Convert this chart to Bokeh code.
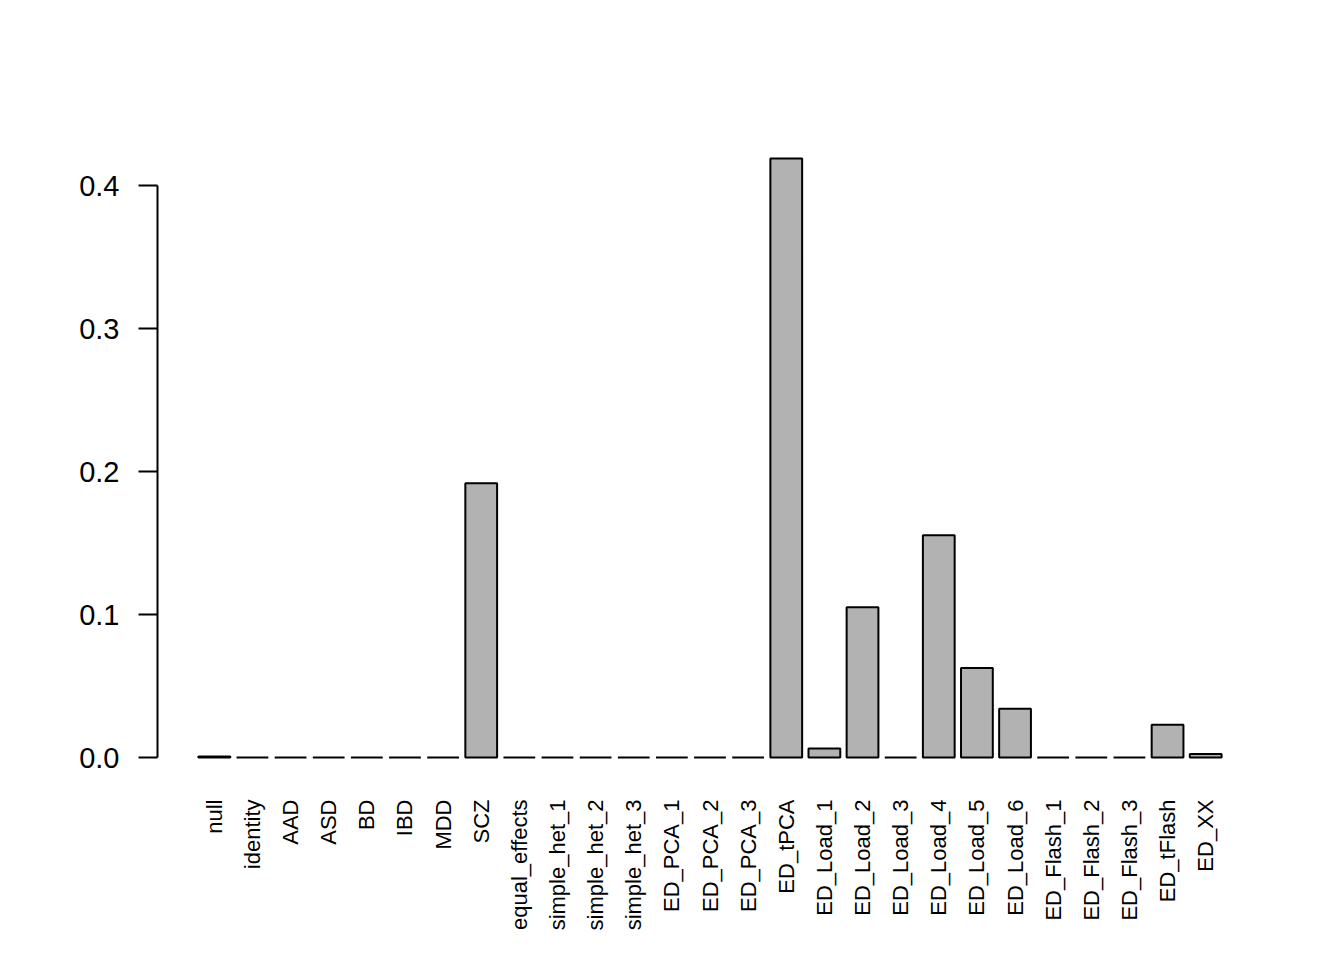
import math
from bokeh.plotting import figure
from bokeh.models import Range1d, FixedTicker
from bokeh.embed import file_html
from bokeh.resources import INLINE

categories = ["null", "identity", "AAD", "ASD", "BD", "IBD", "MDD", "SCZ",
              "equal_effects", "simple_het_1", "simple_het_2", "simple_het_3",
              "ED_PCA_1", "ED_PCA_2", "ED_PCA_3", "ED_tPCA",
              "ED_Load_1", "ED_Load_2", "ED_Load_3", "ED_Load_4", "ED_Load_5", "ED_Load_6",
              "ED_Flash_1", "ED_Flash_2", "ED_Flash_3", "ED_tFlash", "ED_XX"]
values = [0.0008, 0.0, 0.0, 0.0, 0.0, 0.0, 0.0, 0.1918,
          0.0, 0.0, 0.0, 0.0,
          0.0, 0.0, 0.0, 0.4190,
          0.0063, 0.1052, 0.0, 0.1554, 0.0627, 0.0341,
          0.0, 0.0, 0.0, 0.0230, 0.0025]
y_ticks = [0.0, 0.1, 0.2, 0.3, 0.4]
y_tick_labels = ["0.0", "0.1", "0.2", "0.3", "0.4"]

xs = list(range(len(categories)))
ymax = max(values)
pad = 0.04 * ymax

p = figure(frame_width=1105, frame_height=647,
           min_border_left=157, min_border_top=134,
           min_border_right=66, min_border_bottom=162,
           x_range=Range1d(-1.49, len(categories) + 0.49),
           y_range=Range1d(-pad, ymax + pad),
           output_backend="svg", toolbar_location=None,
           background_fill_color="white", border_fill_color="white")
p.outline_line_color = None
p.xgrid.visible = False
p.ygrid.visible = False

p.vbar(x=xs, top=values, bottom=0, width=1 / 1.2,
       fill_color="#B2B2B2", line_color="black", line_width=2)

# y axis
ya = p.yaxis[0]
ya.ticker = FixedTicker(ticks=y_ticks)
ya.major_label_overrides = {t: l for t, l in zip(y_ticks, y_tick_labels)}
ya.bounds = (y_ticks[0], y_ticks[-1])
ya.axis_line_width = 2
ya.major_tick_line_width = 2
ya.major_tick_out = 19
ya.major_tick_in = 0
ya.minor_tick_line_color = None
ya.major_label_standoff = 19
ya.major_label_text_font = "Liberation Sans"
ya.major_label_text_font_size = "29px"
ya.major_label_text_color = "black"
ya.axis_line_color = "black"
ya.major_tick_line_color = "black"

# x axis: names only
xa = p.xaxis[0]
xa.ticker = FixedTicker(ticks=xs)
xa.major_label_overrides = {i: c for i, c in zip(xs, categories)}
xa.axis_line_color = None
xa.major_tick_line_color = None
xa.minor_tick_line_color = None
xa.major_tick_out = 0
xa.major_tick_in = 0
xa.major_label_standoff = 18
xa.major_label_orientation = math.pi / 2
xa.major_label_text_font = "Liberation Sans"
xa.major_label_text_font_size = "22px"
xa.major_label_text_color = "black"

open("out.html", "w").write(file_html(p, INLINE))
